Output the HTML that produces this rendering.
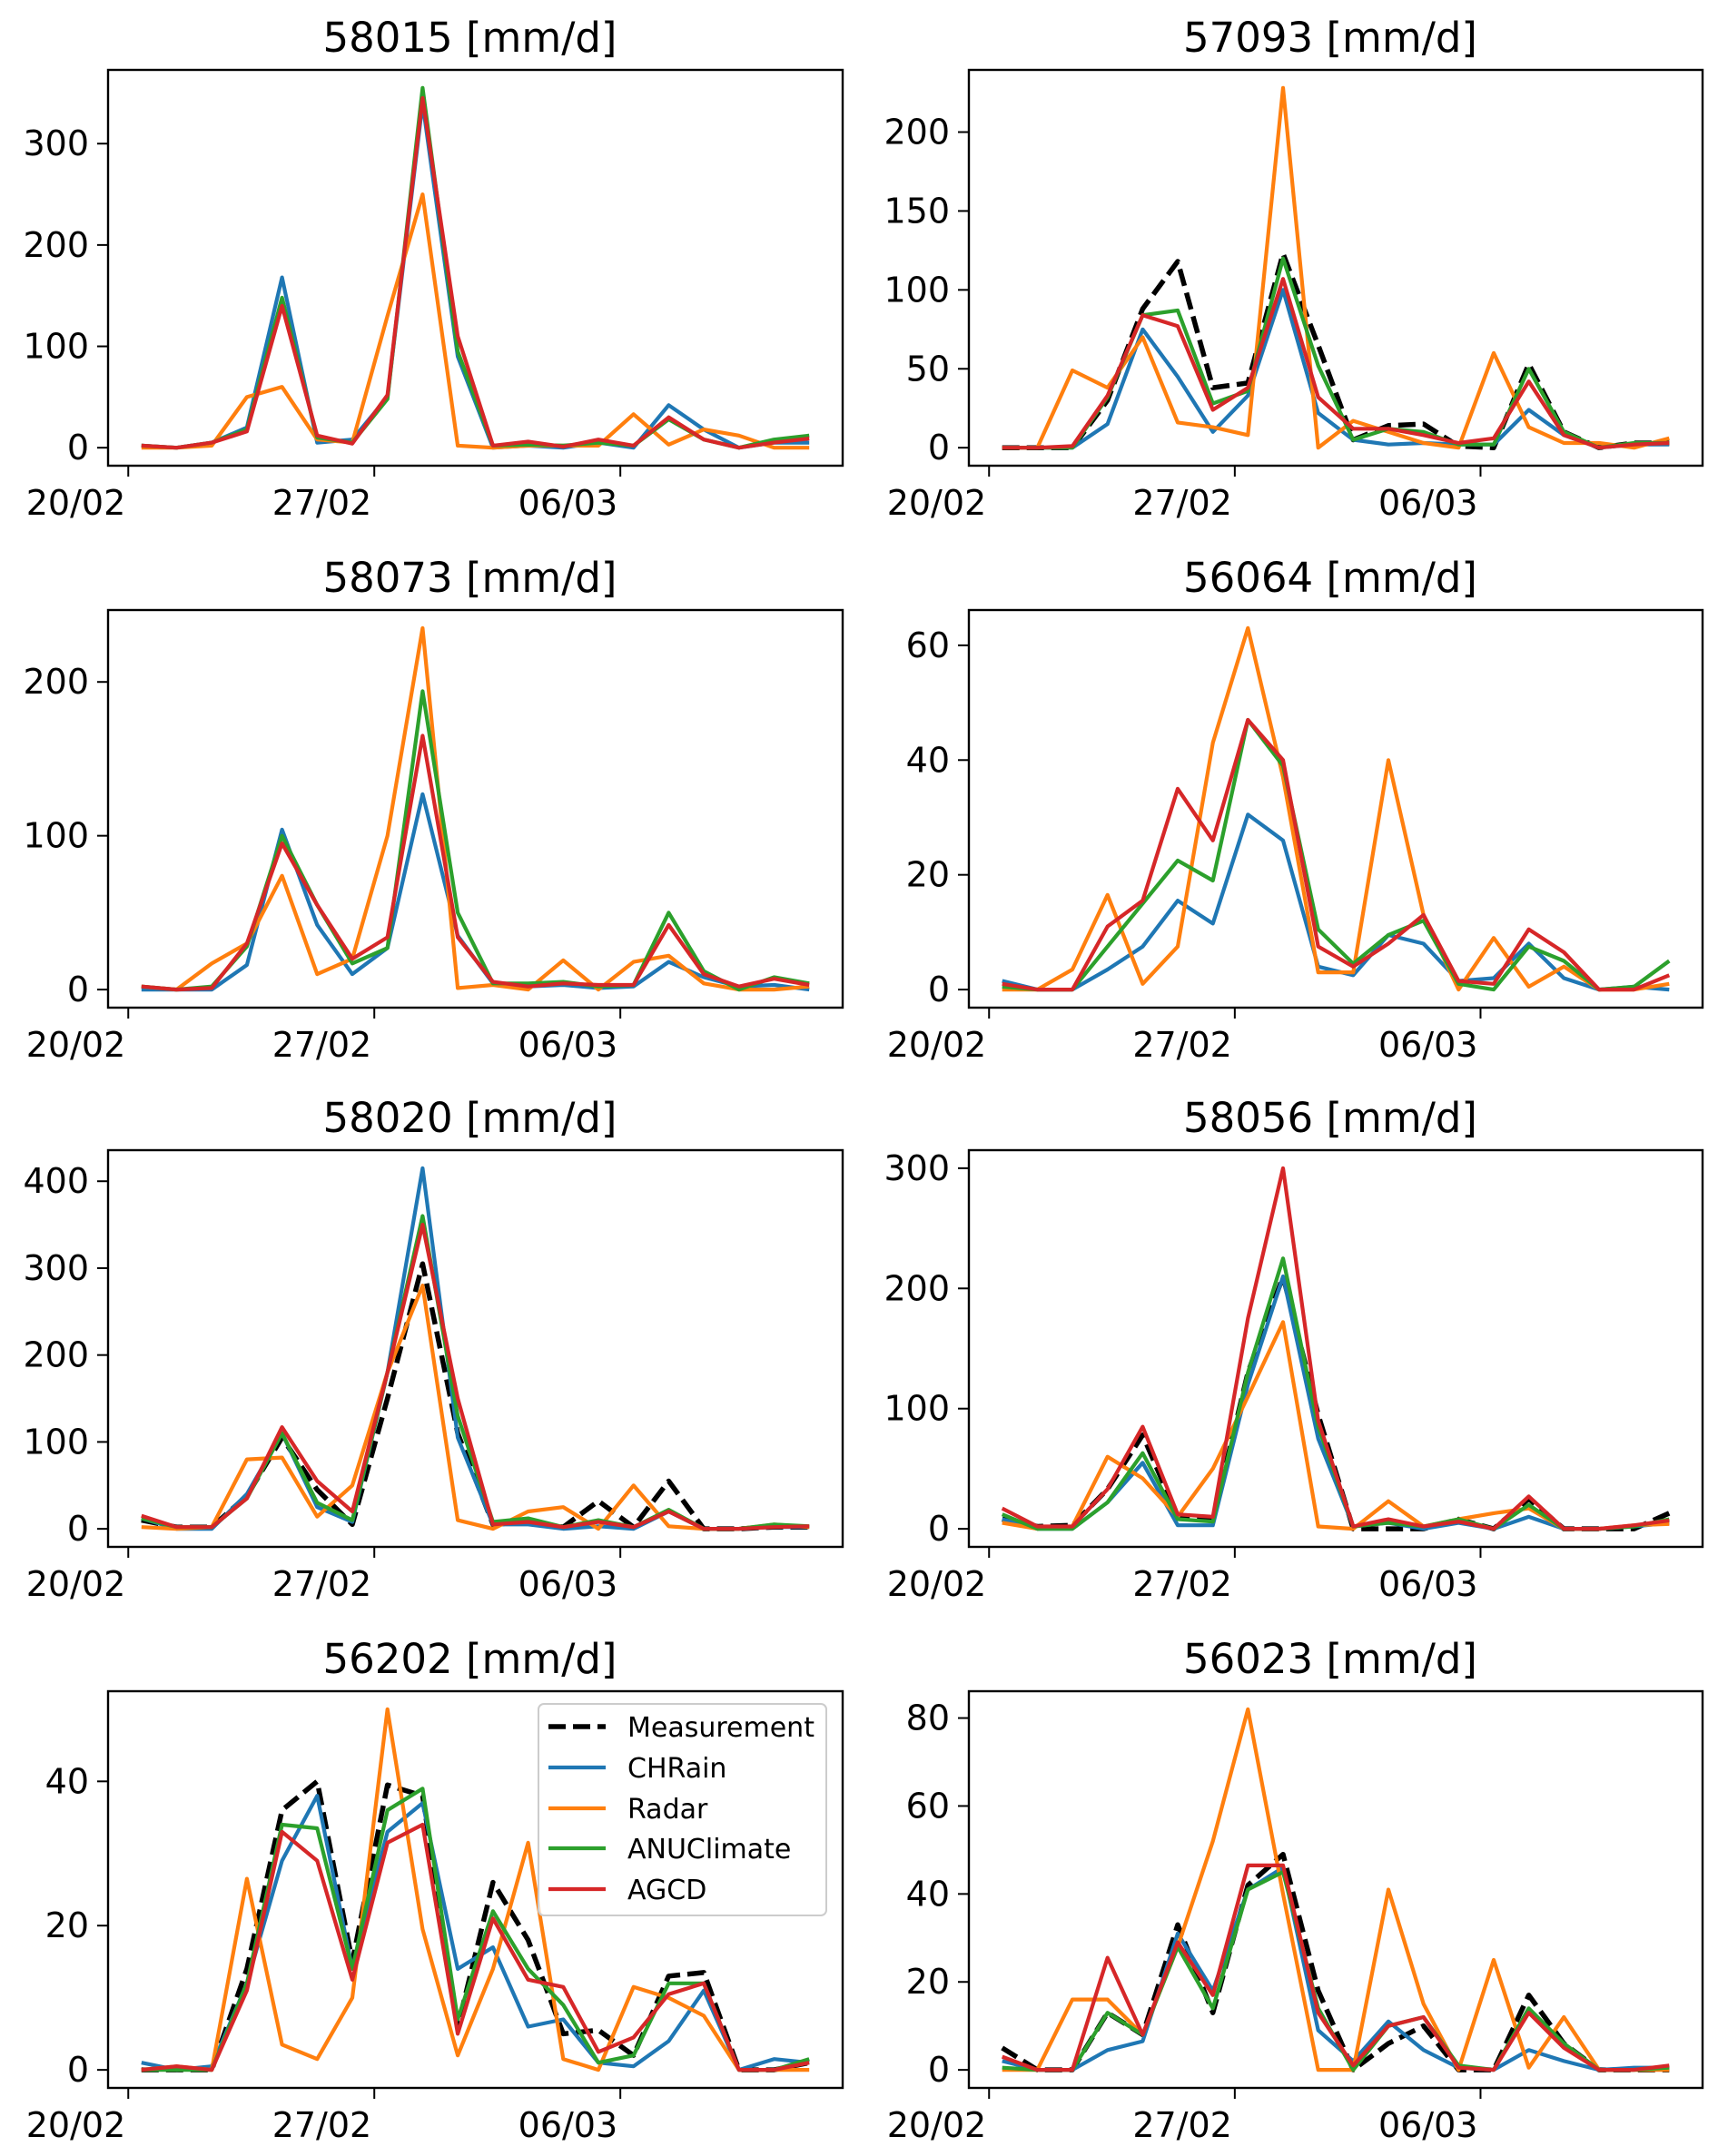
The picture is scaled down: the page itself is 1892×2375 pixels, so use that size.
<!DOCTYPE html>
<html><head><meta charset="utf-8"><style>
html,body{margin:0;padding:0;background:#fff;}
svg{display:block;font-family:"DejaVu Sans","Liberation Sans",sans-serif;}
</style></head><body>
<svg id="fig" width="1892" height="2375" viewBox="0 0 1892 2375" xmlns="http://www.w3.org/2000/svg"></svg>
<script>
const seriesNames = ["Measurement","CHRain","Radar","ANUClimate","AGCD"];
const seriesColors = ["#000000","#1f77b4","#ff7f0e","#2ca02c","#d62728"];
const stations = ["58015","57093","58073","56064","58020","58056","56202","56023"];
const xTickDays = [0,7,14];
const xTickLabels = ["20/02","27/02","06/03"];
const yTicks1 = [0,100,200,300];
const yTicks2 = [0,50,100,150,200];
const yTicks3 = [0,100,200];
const yTicks4 = [0,20,40,60];
const yTicks5 = [0,100,200,300,400];
const yTicks6 = [0,100,200,300];
const yTicks7 = [0,20,40];
const yTicks8 = [0,20,40,60,80];
// panel 1 58015
const meas1 = null;
const chr1 = [2,0,5,20,168,5,8,50,340,90,0,2,0,5,0,42,18,0,5,5];
const rad1 = [0,0,2,50,60,8,5,130,250,2,0,2,2,2,33,3,18,12,0,0];
const anu1 = [2,0,5,18,148,10,5,48,355,95,2,3,2,5,2,28,8,0,8,12];
const agc1 = [2,0,5,16,140,12,4,52,345,110,2,6,1,8,2,30,8,0,5,9];
// panel 2 57093
const meas2 = [0,0,0,30,88,118,38,41,123,65,5,14,15,1,0,53,10,0,3,3];
const chr2 = [0,0,0,15,75,45,10,33,100,22,5,2,3,2,2,24,8,0,2,2];
const rad2 = [0,0,49,38,70,16,13,8,228,0,17,10,3,0,60,13,3,3,0,6];
const anu2 = [0,0,0,32,84,87,28,36,120,52,5,12,10,2,2,50,10,0,3,3];
const agc2 = [0,0,1,33,84,77,24,38,107,32,12,12,8,3,6,42,8,0,2,3];
// panel 3 58073
const meas3 = null;
const chr3 = [0,0,0,16,104,42,10,27,127,35,4,2,3,1,2,18,8,2,3,0];
const rad3 = [2,0,17,30,74,10,20,100,235,1,3,0,19,0,18,22,4,0,0,2];
const anu3 = [2,0,2,28,100,55,17,27,194,50,4,4,5,2,3,50,12,0,8,4];
const agc3 = [2,0,1,30,95,55,20,34,165,34,5,2,4,3,3,42,10,2,7,3];
// panel 4 56064
const meas4 = null;
const chr4 = [1.5,0,0,3.5,7.5,15.5,11.5,30.5,26,4,2.5,9.5,8,1.5,2,8,2,0,0.5,0];
const rad4 = [0,0,3.5,16.5,1,7.5,43,63,37,3,3,40,13,0,9,0.5,4,0,0,1];
const anu4 = [0.5,0,0,7.5,15,22.5,19,47,39,10.5,4.5,9.5,12,1,0,7.5,5,0,0.5,5];
const agc4 = [1,0,0,11,15.5,35,26,47,40,7.5,4,8,13,1.5,1,10.5,6.5,0,0,2.5];
// panel 5 58020
const meas5 = [10,2,2,38,105,45,5,150,305,110,5,8,2,32,2,55,0,0,2,2];
const chr5 = [12,0,0,40,110,25,8,180,415,105,5,5,0,3,0,20,0,0,2,2];
const rad5 = [2,0,2,80,82,14,50,180,280,10,0,20,25,0,50,3,0,0,5,2];
const anu5 = [12,2,2,35,110,30,10,180,360,130,8,12,2,10,2,22,0,0,5,3];
const agc5 = [15,2,2,35,117,55,20,180,350,150,5,8,2,8,2,20,0,0,2,3];
// panel 6 58056
const meas6 = [8,2,3,33,78,10,8,130,210,95,0,0,0,8,0,25,0,0,0,13];
const chr6 = [8,0,0,22,55,3,3,120,210,75,2,5,0,5,0,10,0,0,2,5];
const rad6 = [5,0,2,60,42,10,50,110,172,2,0,23,2,8,13,17,0,0,3,4];
const anu6 = [12,0,0,22,63,8,6,130,225,85,2,5,2,8,0,20,0,0,2,8];
const agc6 = [17,2,2,33,85,12,10,175,300,90,2,8,2,6,0,27,0,0,3,7];
// panel 7 56202
const meas7 = [0,0,0,14,36,40,15,39.5,38,6,26,18,5,5.5,2,13,13.5,0,0,1];
const chr7 = [1,0,0.5,12,29,38,14,33,37,14,17,6,7,1,0.5,4,11,0,1.5,1];
const rad7 = [0,0.5,0,26.5,3.5,1.5,10,50,19.5,2,14,31.5,1.5,0,11.5,10,7.5,0,0,0];
const anu7 = [0,0,0,12,34,33.5,14,36,39,7,22,14,9,1,2,12,12,0,0,1.5];
const agc7 = [0,0.5,0,11,33,29,12.5,31.5,34,5,21,12.5,11.5,2.5,4.5,10.5,12,0,0,1];
// panel 8 56023
const meas8 = [5,0,0,13,8,33,13,42,49,18,0,6,10,0,0,17,6,0,0,0];
const chr8 = [2,0,0,4.5,6.5,31,18,41,46,9,2,11,4.5,0.5,0,4.5,2,0,0.5,0.5];
const rad8 = [0,0,16,16,8,28,52,82,40,0,0,41,15,0,25,0.5,12,0,0,0];
const anu8 = [0.5,0,0,13,8,28,14,41,45,14,0,10,12,1,0,14,6,0,0,0.5];
const agc8 = [3,0,0,25.5,8,29,17,46.5,46.5,13,1,10,12,0.5,0,13,5,0,0,1];

const panelSeries = [
 [meas1,chr1,rad1,anu1,agc1],[meas2,chr2,rad2,anu2,agc2],
 [meas3,chr3,rad3,anu3,agc3],[meas4,chr4,rad4,anu4,agc4],
 [meas5,chr5,rad5,anu5,agc5],[meas6,chr6,rad6,anu6,agc6],
 [meas7,chr7,rad7,anu7,agc7],[meas8,chr8,rad8,anu8,agc8]];
const panelTicks = [yTicks1,yTicks2,yTicks3,yTicks4,yTicks5,yTicks6,yTicks7,yTicks8];

const NS = "http://www.w3.org/2000/svg";
const fig = document.getElementById('fig');
function mk(tag, attrs, parent){const e=document.createElementNS(NS,tag);for(const k in attrs)e.setAttribute(k,attrs[k]);(parent||fig).appendChild(e);return e;}

const colL=[119,1067], colR=[928,1875];
const rowT=[77,672,1267,1863], rowB=[513,1110,1704,2300];
const x0=0.375, nPts=20;

panelSeries.forEach((series,p)=>{
  const c=p%2, r=Math.floor(p/2);
  const L=colL[c], R=colR[c], T=rowT[r], B=rowB[r];
  const g=mk('g',{});
  
  
  const xmin=x0-0.95, xmax=x0+(nPts-1)+0.95;
  const xs=d=>L+(d-xmin)/(xmax-xmin)*(R-L);
  let lo=Infinity, hi=-Infinity;
  series.forEach(s=>{if(s)s.forEach(v=>{lo=Math.min(lo,v);hi=Math.max(hi,v);});});
  const rng=hi-lo, ymin=lo-0.05*rng, ymax=hi+0.05*rng;
  const ys=v=>B-(v-ymin)/(ymax-ymin)*(B-T);
  const title=mk('text',{x:(L+R)/2-6,y:T-20,'text-anchor':'middle','font-size':45,fill:'#000'},g);
  title.textContent=stations[p]+' [mm/d]';
  
  
  [0,1,2,3,4].forEach(si=>{
    const s=series[si]; if(!s) return;
    const pts=s.map((v,i)=>xs(x0+i).toFixed(1)+','+ys(v).toFixed(1)).join(' ');
    const attrs={points:pts,fill:'none',stroke:seriesColors[si],'stroke-width':si===0?5.5:4.2,'stroke-linejoin':'round'};
    if(si===0){attrs['stroke-dasharray']='19 8';}
    const pl=mk('polyline',attrs,g);
    
    
  });
  const fr=mk('rect',{x:L,y:T,width:R-L,height:B-T,fill:'none',stroke:'#000','stroke-width':2.4},g);
  
  
  xTickDays.forEach((d,i)=>{
    const x=xs(d);
    mk('line',{x1:x,y1:B,x2:x,y2:B+12,stroke:'#000','stroke-width':2},g);
    const t=mk('text',{x:x-3,y:B+54,'text-anchor':'end','font-size':38,fill:'#000'},g);
    t.textContent=xTickLabels[i];
    
    
  });
  panelTicks[p].forEach(v=>{
    const y=ys(v);
    mk('line',{x1:L-12,y1:y,x2:L,y2:y,stroke:'#000','stroke-width':2},g);
    const t=mk('text',{x:L-21,y:y+13,'text-anchor':'end','font-size':38,fill:'#000'},g);
    t.textContent=String(v);
    
    
  });
});

const lg=mk('g',{});


mk('rect',{x:593,y:1877,width:317,height:233,rx:6,fill:'rgba(255,255,255,0.8)',stroke:'#cccccc','stroke-width':2},lg);
const rowsY=[1902,1947,1992,2036,2081];
seriesNames.forEach((n,i)=>{
  const e=mk('g',{},lg);
  
  
  const a={x1:604,y1:rowsY[i],x2:667,y2:rowsY[i],stroke:seriesColors[i],'stroke-width':i===0?5.5:4.2};
  if(i===0)a['stroke-dasharray']='19 8';
  mk('line',a,e);
  const t=mk('text',{x:691,y:rowsY[i]+11,'font-size':30,fill:'#000'},e);
  t.textContent=n;
});
</script>
</body></html>
